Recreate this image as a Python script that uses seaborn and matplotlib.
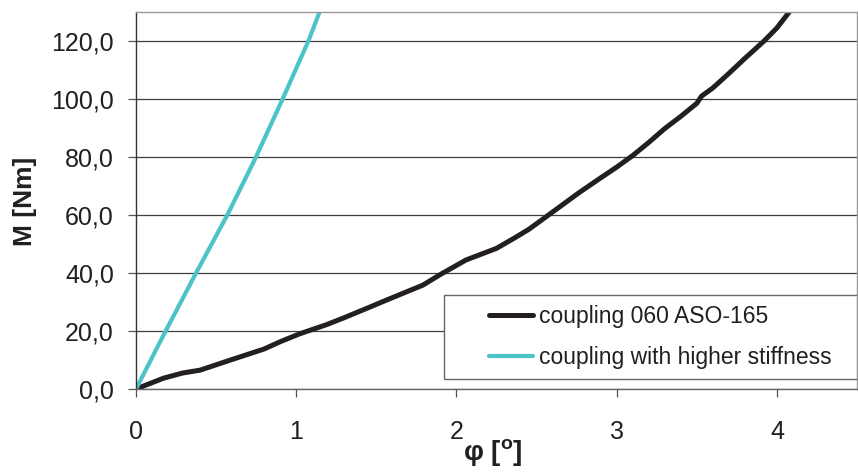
import numpy as np
import pandas as pd
import matplotlib
matplotlib.use("Agg")
import matplotlib.pyplot as plt
import seaborn as sns
from matplotlib.patches import Rectangle

# ---- data ----
phi_base = [0.0, 0.17, 0.29, 0.4, 0.59, 0.8, 0.9, 1.02, 1.19, 1.3, 1.44, 1.6, 1.79,
            1.9, 2.06, 2.25, 2.36, 2.45, 2.56, 2.76, 2.9, 3.0, 3.1, 3.2, 3.3, 3.4,
            3.5, 3.53, 3.6, 3.7, 3.8, 3.92, 4.0, 4.07, 4.12]
m_base = [0.0, 3.7, 5.5, 6.5, 10.0, 13.8, 16.3, 19.0, 22.2, 24.6, 27.8, 31.5, 35.8,
          39.5, 44.5, 48.5, 52.0, 55.0, 59.4, 67.5, 72.8, 76.5, 80.5, 85.0, 89.8,
          94.0, 98.5, 101.0, 103.8, 108.8, 114.0, 120.0, 124.5, 129.5, 133.0]
phi_stiff = [0.0, 0.185, 0.375, 0.57, 0.749, 0.915, 1.076, 1.149]
m_stiff = [0.0, 20.0, 40.0, 60.0, 80.0, 100.0, 120.0, 130.5]
labels = ["coupling 060 ASO-165", "coupling with higher stiffness"]
x_ticks = [0, 1, 2, 3, 4]
y_ticks = [0, 20, 40, 60, 80, 100, 120]
y_tick_labels = ["0,0", "20,0", "40,0", "60,0", "80,0", "100,0", "120,0"]
colors = ["#231f20", "#4cc3c6"]

df = pd.concat([
    pd.DataFrame({"phi": phi_base, "M": m_base, "series": labels[0]}),
    pd.DataFrame({"phi": phi_stiff, "M": m_stiff, "series": labels[1]}),
])

sns.set_style("white")
plt.rcParams["font.family"] = ["Liberation Sans", "DejaVu Sans"]
plt.rcParams["mathtext.fontset"] = "custom"
plt.rcParams["mathtext.bf"] = "Liberation Sans:bold"
plt.rcParams["mathtext.rm"] = "Liberation Sans"

fig = plt.figure(figsize=(8.58, 4.72), dpi=100)
ax = fig.add_axes([136/858, 1-389/472, 721/858, 377/472])

sns.lineplot(data=df, x="phi", y="M", hue="series", palette=colors,
             sort=False, estimator=None, ax=ax, legend=False)
for line, lw in zip(ax.get_lines(), [3.6, 3.0]):
    line.set_linewidth(lw)
    line.set_solid_capstyle("butt")
    line.set_solid_joinstyle("round")

ax.set_xlim(0, 4.5)
ax.set_ylim(0, 130)
ax.set_xticks(x_ticks)
ax.set_xticklabels([str(t) for t in x_ticks])
ax.set_yticks(y_ticks)
ax.set_yticklabels(y_tick_labels)
ax.yaxis.grid(True, color="#3f3f3f", linewidth=0.9)
ax.set_axisbelow(True)

ax.tick_params(axis="x", direction="out", length=6, width=0.9, color="#555555",
               pad=16, labelsize=18, labelcolor="#231f20", bottom=True)
ax.tick_params(axis="y", direction="out", length=6, width=0.9, color="#555555",
               pad=10, labelsize=18, labelcolor="#231f20", left=True)

for side, col in [("left", "#333333"), ("bottom", "#666666"), ("top", "#999999"), ("right", "#999999")]:
    ax.spines[side].set_visible(True)
    ax.spines[side].set_color(col)
    ax.spines[side].set_linewidth(1.0)

ax.set_ylabel("M [Nm]", fontsize=19, fontweight="bold", color="#231f20")
ax.yaxis.set_label_coords(-0.137, 0.499)
ax.set_xlabel(r"φ [$\mathbf{^o}$]", fontsize=20, fontweight="bold", color="#231f20")
ax.xaxis.set_label_coords(0.495, -0.128)

# legend
box = Rectangle((0.427, 0.0265), 0.573, 0.2228, transform=ax.transAxes,
                facecolor="white", edgecolor="#666666", linewidth=1.0, zorder=4)
ax.add_patch(box)
handles = [plt.Line2D([], [], color=c, lw=lw) for c, lw in zip(colors, [3.6, 3.0])]
leg = ax.legend(handles, labels, loc="center left", bbox_to_anchor=(0.489, 0.138),
                frameon=False, fontsize=16.5, handlelength=1.95, handletextpad=0.25,
                labelspacing=0.75, borderpad=0, borderaxespad=0)
leg.set_zorder(5)
for t in leg.get_texts():
    t.set_color("#231f20")

fig.savefig("out.png", dpi=100)
